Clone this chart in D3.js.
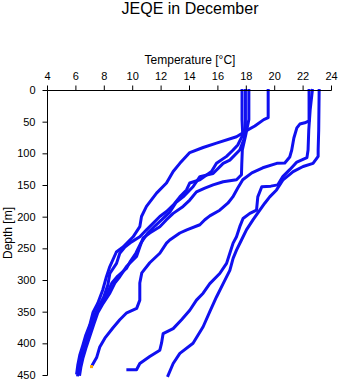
<!DOCTYPE html>
<html><head><meta charset="utf-8">
<script src="https://cdn.jsdelivr.net/npm/d3@7"></script>
<style>body{margin:0;background:#fff}</style>
</head><body>
<svg id="c" width="341" height="384"></svg>
<script>
const xTicks=[4,6,8,10,12,14,16,18,20,22,24];
const yTicks=[0,50,100,150,200,250,300,350,400,450];
const titleText="JEQE in December";
const xLabel="Temperature [°C]";
const yLabel="Depth [m]";

const profA_T=[17.7,17.7,17.75,17.4,17.07,16.61,15.9,15.55,14.73,14.02,13.79,13.32,12.85,12.38,11.91,10.97,10.5,9.92,9.45,9.09,8.86,8.39,8.25,7.96,7.54,7.12,6.84,6.56,6.35,6.2,6.13];
const profA_D=[0,46,70,86,94,104,115,128,141,146,157,168,181,191,199,220,231,239,247,257,273,289,307,326,344,363,382,402,421,438,449];
const profB_T=[17.94,17.94,17.82,17.54,16.84,16.37,15.66,14.73,14.25,13.55,13.04,12.61,12.05,11.56,11.06,10.57,10.22,9.8,9.56,8.95,8.53,8.25,7.89,7.47,7.19,6.91,6.63,6.42,6.28,6.24];
const profB_D=[0,62,78,94,110,115,131,136,152,168,177,192,204,214,225,241,257,271,281,293,304,318,334,350,366,383,402,420,435,446];
const profC_T=[18.18,18.18,17.96,17.72,17.68,17.66,17.31,16.37,15.66,15.08,14.49,14.02,13.55,12.85,12.38,11.91,11.2,10.73,10.5,10.27,9.56,9.09,8.74,8.39,7.92,7.54,7.26,6.98,6.7,6.49,6.35,6.27];
const profC_D=[0,46,70,94,117,133,141,144,149,154,160,173,183,194,204,215,225,233,247,262,278,294,304,320,336,351,369,388,407,423,437,448];
const profD_T=[19.54,19.54,19.54,19.23,18.6,17.89,17.31,15.9,14.96,14.02,13.32,12.85,12.38,11.68,10.97,10.62,10.5,10.03,9.32,8.85,8.39,8.15,7.89,7.54,7.21,6.98,6.7,6.49,6.27,6.13,6.06];
const profD_D=[0,30,43,46,56,65,73,83,90,98,115,128,146,162,183,199,215,231,247,255,278,294,315,336,350,370,386,402,418,434,446];
const profE_T=[22.42,22.42,22.12,21.77,21.56,21.35,21.2,21.06,20.71,20.15,19.16,18.39,17.75,17.4,17.05,16.7,16.13,15.43,15.08,14.73,13.81,13.32,12.61,12.38,11.91,11.2,10.64,10.5,10.5,10.28,9.58,9.09,8.6,8.04,7.68,7.47,7.19];
const profE_D=[0,48,51,53,59,75,94,105,114.5,115,122,130,141,154,168,178,189,198,204,212,220,225,236,241,257,272,288,304,331,344,351,362,375,391,405,421,432];
const profF_T=[22.65,22.5,22.4,22.35,22.27,21.56,21.06,20.57,20.22,19.73,19.09,18.81,18.72,18.25,17.77,17.54,17.31,17.07,16.84,16.61,16.13,15.43,14.96,14.49,14.02,13.44,12.85,12.14,12.03,11.91,11.2,10.5,10.27,9.66];
const profF_D=[0,30,62,94,106,113,125,136,149,151,152,168,189,194,202,215,231,241,257,273,289,305,320,331,347,362,376,384,399,410,420,431,441,441];
const profG_T=[23.13,23.1,23.06,23.06,22.7,22.0,21.3,20.59,20.13,19.65,19.3,18.48,18.01,17.66,17.31,17.07,16.84,16.37,15.9,15.43,14.96,14.25,13.32,12.85,12.49];
const profG_D=[0,62,94,104,115,120,128,141,157,168,178,204,220,236,252,265,284,305,326,349,373,399,415,431,450];
const markT=[7.1];
const markD=[436];

const profiles=[[profA_T,profA_D],[profB_T,profB_D],[profC_T,profC_D],[profD_T,profD_D],[profE_T,profE_D],[profF_T,profF_D],[profG_T,profG_D]];

const svg=d3.select("#c");
const x=d3.scaleLinear().domain([4,24]).range([47.5,331.5]);
const y=d3.scaleLinear().domain([0,450]).range([90.5,375.5]);
const font="'Liberation Sans', Arial, sans-serif";

svg.append("text").attr("x",190).attr("y",13.5).attr("text-anchor","middle")
  .style("font-family",font).style("font-size","16px").text(titleText);
svg.append("text").attr("x",190).attr("y",64).attr("text-anchor","middle")
  .style("font-family",font).style("font-size","12px").text(xLabel);
svg.append("text").attr("transform","translate(11.5,233) rotate(-90)").attr("text-anchor","middle")
  .style("font-family",font).style("font-size","12px").text(yLabel);

const line=d3.line().x(d=>x(d[0])).y(d=>y(d[1]));
const gData=svg.append("g");
profiles.forEach(([T,D])=>{
  gData.append("path").datum(T.map((t,i)=>[t,D[i]])).attr("d",line)
    .attr("fill","none").attr("stroke","#1010f0").attr("stroke-width",3)
    .attr("stroke-linejoin","round").attr("stroke-linecap","square");
});
gData.selectAll("rect.m").data(markT.map((t,i)=>[t,markD[i]])).enter().append("rect")
  .attr("x",d=>x(d[0])-1.5).attr("y",d=>y(d[1])-1.5).attr("width",3).attr("height",3).attr("fill","#ffa500");

const ax=svg.append("g").attr("transform","translate(0,90.5)")
  .call(d3.axisTop(x).tickValues(xTicks).tickSize(5).tickSizeOuter(0).tickPadding(6).offset(0));
const ay=svg.append("g").attr("transform","translate(47.5,0)")
  .call(d3.axisLeft(y).tickValues(yTicks).tickSize(5).tickSizeOuter(0).tickPadding(7).offset(0));
[ax,ay].forEach(a=>{
  a.selectAll("text").style("font-family",font).style("font-size","11px").attr("fill","#000");
  a.selectAll("line,path").attr("stroke","#000").attr("stroke-width",1);
});
</script>
</body></html>
